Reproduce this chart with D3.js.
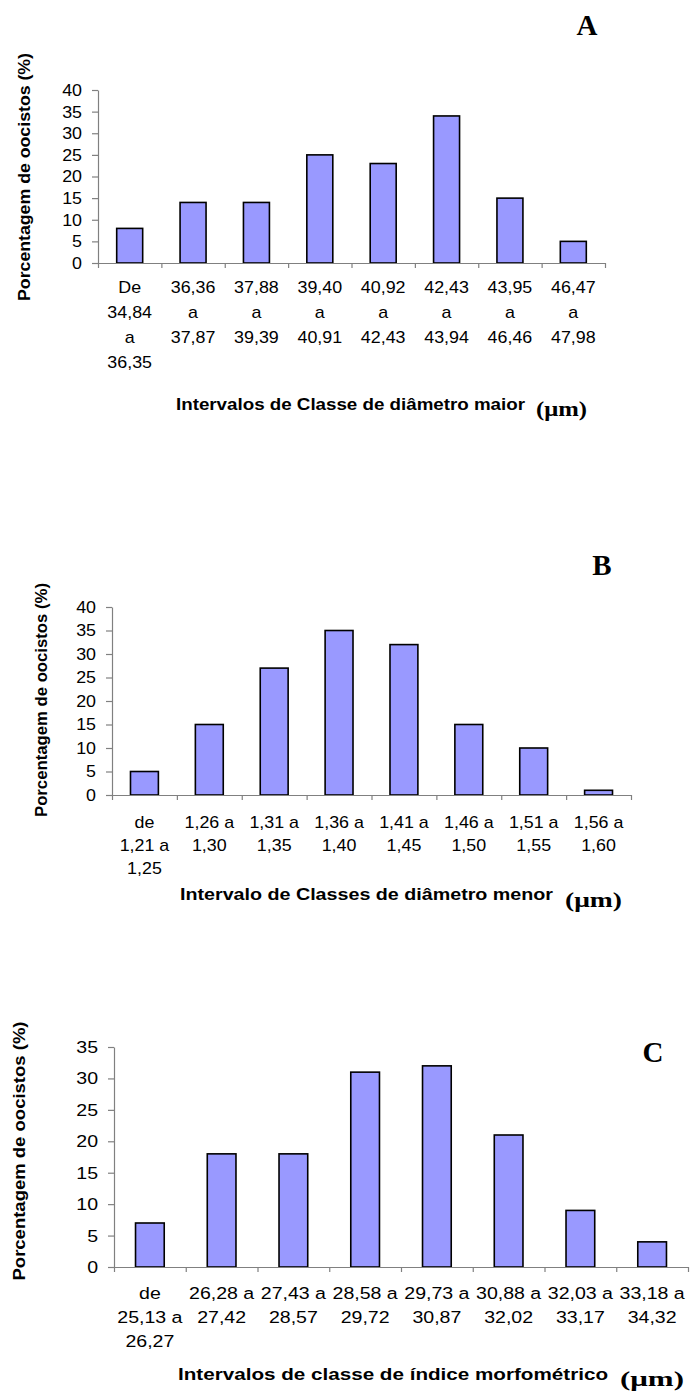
<!DOCTYPE html>
<html lang="pt">
<head>
  <meta charset="UTF-8" />
  <title>Oocistos - intervalos de classe</title>
  <script src="https://d3js.org/d3.v7.min.js"></script>
  <style>
    body { margin: 0; padding: 0; background: #fff; }
    svg { display: block; }
    .tick text, .xlab { font-family: "Liberation Sans", Arial, sans-serif; font-size: 17px; fill: #000; }
    .domain, .tick line { stroke: #808080; stroke-width: 1.2px; }
    .bar { fill: #9999ff; stroke: #000; stroke-width: 1.6px; }
    .ytitle, .xtitle { font-family: "Liberation Sans", Arial, sans-serif; font-weight: bold; fill: #000; }
    .mu, .letter { font-family: "Liberation Serif", "Times New Roman", serif; font-weight: bold; fill: #000; }
  </style>
</head>
<body>
<svg width="693" height="1393"></svg>
<script>
// Data
const catsA = [["De","34,84","a","36,35"],["36,36","a","37,87"],["37,88","a","39,39"],["39,40","a","40,91"],
               ["40,92","a","42,43"],["42,43","a","43,94"],["43,95","a","46,46"],["46,47","a","47,98"]];
const valsA = [8, 14, 14, 25, 23, 34, 15, 5];

const catsB = [["de","1,21 a","1,25"],["1,26 a","1,30"],["1,31 a","1,35"],["1,36 a","1,40"],
               ["1,41 a","1,45"],["1,46 a","1,50"],["1,51 a","1,55"],["1,56 a","1,60"]];
const valsB = [5, 15, 27, 35, 32, 15, 10, 1];

const catsC = [["de","25,13 a","26,27"],["26,28 a","27,42"],["27,43 a","28,57"],["28,58 a","29,72"],
               ["29,73 a","30,87"],["30,88 a","32,02"],["32,03 a","33,17"],["33,18 a","34,32"]];
const valsC = [7, 18, 18, 31, 32, 21, 9, 4];

const yTicksA = [0, 5, 10, 15, 20, 25, 30, 35, 40];
const yTicksB = [0, 5, 10, 15, 20, 25, 30, 35, 40];
const yTicksC = [0, 5, 10, 15, 20, 25, 30, 35];

const yTitle = "Porcentagem de oocistos (%)";
const xTitles = ["Intervalos de Classe de diâmetro maior", "Intervalo de Classes de diâmetro menor",
                 "Intervalos de classe de índice morfométrico"];
const panelLetters = ["A", "B", "C"];
const unit = "(\u03bcm)";

// layout of each panel
const panels = [
  { cats: catsA, vals: valsA, ticks: yTicksA, x0: 98, x1: 605, yt: 90, yb: 263, bar: 0.41, sx: 1.05,
    rowY: 287, rowGap: 25, yl: [24, 177, 248], xl: [176, 404, 349], mu: [536, 409, 51], let: [587, 25] },
  { cats: catsB, vals: valsB, ticks: yTicksB, x0: 112, x1: 631, yt: 607, yb: 795, bar: 0.43, sx: 1.05,
    rowY: 822, rowGap: 23, yl: [41, 700, 234], xl: [180, 894, 373], mu: [565, 900, 57], let: [602, 565] },
  { cats: catsC, vals: valsC, ticks: yTicksC, x0: 114, x1: 688, yt: 1047, yb: 1267, bar: 0.40, sx: 1.15,
    rowY: 1293, rowGap: 24, yl: [19, 1151, 259], xl: [178, 1374, 430], mu: [620, 1379, 64], let: [653, 1052] }
];

const svg = d3.select("svg");

panels.forEach((p, k) => {
  const g = svg.append("g");
  const n = p.vals.length;
  const ymax = p.ticks[p.ticks.length - 1];

  const x = d3.scaleBand().domain(d3.range(n)).range([p.x0, p.x1])
    .paddingInner(1 - p.bar).paddingOuter((1 - p.bar) / 2);
  const xEdge = d3.scaleLinear().domain([0, n]).range([p.x0, p.x1]);
  const y = d3.scaleLinear().domain([0, ymax]).range([p.yb, p.yt]);

  // bars
  g.selectAll(".bar").data(p.vals).enter().append("rect")
    .attr("class", "bar")
    .attr("x", (d, i) => x(i))
    .attr("width", x.bandwidth())
    .attr("y", d => y(d))
    .attr("height", d => y(0) - y(d));

  // y axis
  const ya = g.append("g").attr("transform", `translate(${p.x0},0)`)
    .call(d3.axisLeft(y).tickValues(p.ticks).tickSize(6).tickSizeOuter(0).tickPadding(10).tickFormat(d3.format("d")));
  ya.selectAll(".tick text").attr("transform", `scale(${p.sx},1)`)
    .attr("x", -16 / p.sx);

  // x axis with ticks at class edges
  g.append("g").attr("transform", `translate(0,${p.yb})`)
    .call(d3.axisBottom(xEdge).tickValues(d3.range(n + 1)).tickSize(5).tickSizeOuter(0).tickFormat(""));

  // category labels, several lines each
  p.cats.forEach((lines, i) => {
    const cx = x(i) + x.bandwidth() / 2;
    lines.forEach((t, j) => {
      g.append("text").attr("class", "xlab")
        .attr("transform", `translate(${cx},${p.rowY + j * p.rowGap}) scale(${p.sx},1)`)
        .attr("text-anchor", "middle").attr("dy", "0.35em")
        .text(t);
    });
  });

  // y title
  g.append("text").attr("class", "ytitle")
    .attr("transform", `translate(${p.yl[0]},${p.yl[1]}) rotate(-90)`)
    .attr("text-anchor", "middle").attr("dy", "0.35em")
    .style("font-size", "16px")
    .attr("textLength", p.yl[2]).attr("lengthAdjust", "spacingAndGlyphs")
    .text(yTitle);

  // x title
  g.append("text").attr("class", "xtitle")
    .attr("x", p.xl[0]).attr("y", p.xl[1]).attr("dy", "0.35em")
    .style("font-size", "16px")
    .attr("textLength", p.xl[2]).attr("lengthAdjust", "spacingAndGlyphs")
    .text(xTitles[k]);

  g.append("text").attr("class", "mu")
    .attr("x", p.mu[0]).attr("y", p.mu[1]).attr("dy", "0.35em")
    .style("font-size", "20px")
    .attr("textLength", p.mu[2]).attr("lengthAdjust", "spacingAndGlyphs")
    .text(unit);

  g.append("text").attr("class", "letter")
    .attr("x", p.let[0]).attr("y", p.let[1]).attr("dy", "0.35em")
    .attr("text-anchor", "middle")
    .style("font-size", "29px")
    .text(panelLetters[k]);
});
</script>
</body>
</html>
